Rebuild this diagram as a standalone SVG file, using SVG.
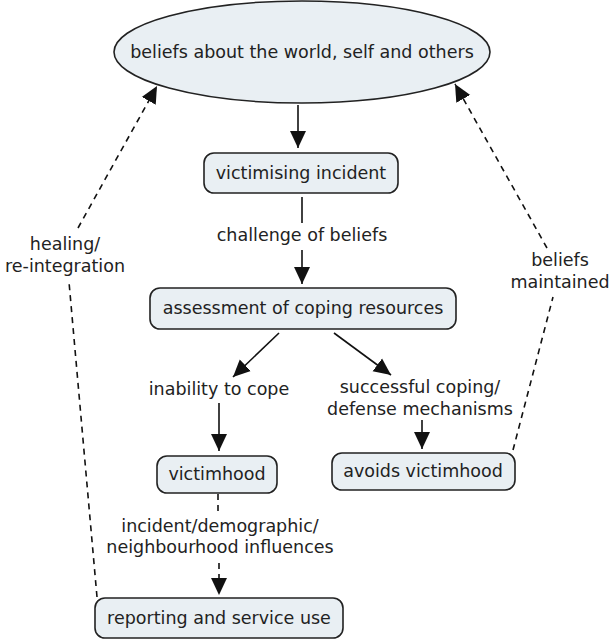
<svg xmlns="http://www.w3.org/2000/svg" width="613" height="643" viewBox="0 0 613 643">
<style>
.n{fill:#e9eff3;stroke:#222;stroke-width:1.6}
text{font-family:"DejaVu Sans",Verdana,sans-serif;font-size:17.5px;fill:#222;text-anchor:middle}
.c{stroke:#111;stroke-width:1.6;fill:none}
.d{stroke-dasharray:6 5}
</style>
<defs>
<marker id="ah" markerUnits="userSpaceOnUse" markerWidth="18" markerHeight="18" viewBox="0 0 18 18" refX="17" refY="9" orient="auto">
<path d="M0,1 L17,9 L0,17 Z" fill="#111"/>
</marker>
</defs>
<rect width="613" height="643" fill="#fff"/>
<g id="connectors">
<line class="c" x1="298" y1="105" x2="298" y2="148" marker-end="url(#ah)"/>
<line class="c" x1="302" y1="197" x2="302" y2="223"/>
<line class="c" x1="302" y1="250" x2="302" y2="284" marker-end="url(#ah)"/>
<line class="c" x1="279" y1="333" x2="233" y2="377" marker-end="url(#ah)"/>
<line class="c" x1="334" y1="333" x2="391" y2="375" marker-end="url(#ah)"/>
<line class="c" x1="219" y1="403" x2="219" y2="451" marker-end="url(#ah)"/>
<line class="c" x1="422" y1="420" x2="422" y2="449" marker-end="url(#ah)"/>
<line class="c d" x1="218" y1="494" x2="218" y2="514"/>
<line class="c d" x1="219" y1="563" x2="219" y2="595" marker-end="url(#ah)"/>
<line class="c d" x1="97" y1="597" x2="69" y2="282"/>
<line class="c d" x1="78" y1="228" x2="157" y2="86" marker-end="url(#ah)"/>
<line class="c d" x1="513" y1="450" x2="553" y2="297"/>
<line class="c d" x1="547" y1="248" x2="455" y2="84" marker-end="url(#ah)"/>
<text x="302" y="241">challenge of beliefs</text>
<text x="219" y="395">inability to cope</text>
<text x="420" y="393">successful coping/</text>
<text x="420" y="415">defense mechanisms</text>
<text x="220" y="532">incident/demographic/</text>
<text x="220" y="553">neighbourhood influences</text>
<text x="65" y="250">healing/</text>
<text x="65" y="272">re-integration</text>
<text x="560" y="266">beliefs</text>
<text x="560" y="288">maintained</text>
</g>
<g id="beliefs">
<ellipse class="n" cx="302" cy="52" rx="188" ry="51"/>
<text x="302" y="58">beliefs about the world, self and others</text>
</g>
<g id="victimising">
<rect class="n" x="204" y="153" width="194" height="40" rx="10"/>
<text x="301" y="179">victimising incident</text>
</g>
<g id="assessment">
<rect class="n" x="150" y="288" width="306" height="41" rx="10"/>
<text x="303" y="314">assessment of coping resources</text>
</g>
<g id="victimhood">
<rect class="n" x="157" y="456" width="120" height="37" rx="10"/>
<text x="217" y="480">victimhood</text>
</g>
<g id="avoids">
<rect class="n" x="332" y="453" width="183" height="37" rx="10"/>
<text x="423" y="477">avoids victimhood</text>
</g>
<g id="reporting">
<rect class="n" x="95" y="598" width="248" height="40" rx="10"/>
<text x="219" y="624">reporting and service use</text>
</g>
</svg>
